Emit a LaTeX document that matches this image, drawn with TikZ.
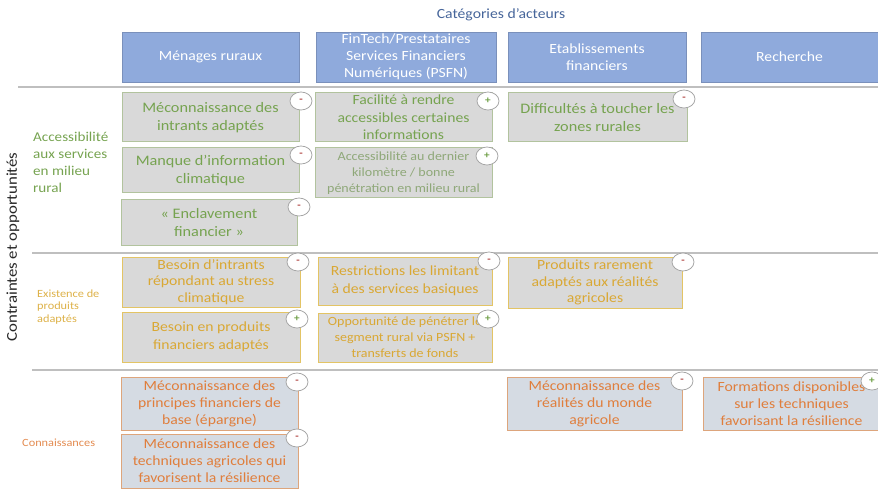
\documentclass[tikz,border=0pt]{standalone}
\usepackage{fontspec}
\setmainfont{Carlito}[FakeStretch=1.12]
\usetikzlibrary{shapes.geometric}
\definecolor{hdrfill}{HTML}{8FAADC}
\definecolor{boxgray}{HTML}{D9D9D9}
\definecolor{boxblue}{HTML}{D5DBE3}
\definecolor{grn}{HTML}{76A350}
\definecolor{grnline}{HTML}{B2C39E}
\definecolor{gld}{HTML}{D9A834}
\definecolor{gldline}{HTML}{E3C465}
\definecolor{org}{HTML}{E07E3C}
\definecolor{orgline}{HTML}{DDA57C}
\definecolor{sepline}{HTML}{BFBFBF}
\definecolor{ttl}{HTML}{46659A}
\definecolor{minusc}{HTML}{B0413E}
\definecolor{plusc}{HTML}{6E9F45}
\tikzset{
  hdr/.style={rectangle, fill=hdrfill, draw=hdrfill!85!black, line width=0.4pt, inner sep=0pt, align=center, text=white, font=\fontsize{14}{17}\selectfont},
  cell/.style={rectangle, inner sep=0pt, align=center, line width=1pt},
  gcell/.style={cell, fill=boxgray, draw=grnline, text=grn},
  ycell/.style={cell, fill=boxgray, draw=gldline, text=gld},
  ocell/.style={cell, fill=boxblue, draw=orgline, text=org},
  big/.style={font=\fontsize{14.5}{18}\selectfont},
  mid/.style={font=\fontsize{14}{16.8}\selectfont},
  sml/.style={font=\fontsize{12.5}{16}\selectfont},
  sgn/.style={ellipse, fill=white, draw=gray!70, line width=0.8pt, minimum width=22pt, minimum height=18pt, inner sep=0pt, font=\fontsize{10}{10}\selectfont\bfseries},
  negsign/.style={sgn, text=minusc},
  plussign/.style={sgn, text=plusc},
  sep/.style={draw=sepline, line width=1.2pt},
  rowlab/.style={anchor=west, align=left, inner sep=0pt}
}
\begin{document}
\begin{tikzpicture}[x=1pt,y=-1pt]
\useasboundingbox (0,0) rectangle (878,489);
% title
\node[text=ttl, font=\fontsize{14}{17}\selectfont] (title) at (501,15) {Catégories d'acteurs};
% header boxes
\node[hdr, minimum width=177pt, minimum height=50pt] (h1) at (210.5,57) {Ménages ruraux};
\node[hdr, minimum width=180pt, minimum height=50pt] (h2) at (406,57) {FinTech/Prestataires\\Services Financiers\\Numériques (PSFN)};
\node[hdr, minimum width=178pt, minimum height=50pt] (h3) at (597,57) {Etablissements\\financiers};
\node[hdr, minimum width=177pt, minimum height=50pt] (h4) at (789.5,57) {Recherche};
% separators
\coordinate (s1a) at (18,87); \coordinate (s1b) at (878,87);
\coordinate (s2a) at (32,253); \coordinate (s2b) at (878,253);
\coordinate (s3a) at (32,370); \coordinate (s3b) at (878,370);
\draw[sep] (s1a) -- (s1b);
\draw[sep] (s2a) -- (s2b);
\draw[sep] (s3a) -- (s3b);
% vertical label
\node[rotate=90, text=black!85, font=\fontsize{15}{18}\selectfont] (vlab) at (13,247) {Contraintes et opportunités};
% row labels
\node[rowlab, text=grn, font=\fontsize{13.5}{17}\selectfont] (lab1) at (33,162.5) {Accessibilité\\aux services\\en milieu\\rural};
\node[rowlab, text=gld!90!white, font=\fontsize{11}{12.5}\selectfont] (lab2) at (37,307) {Existence de\\produits\\adaptés};
\node[rowlab, text=org!90!white, font=\fontsize{11}{12.5}\selectfont] (lab3) at (22,443) {Connaissances};
% row 1
\node[gcell, big, minimum width=177pt, minimum height=49pt] (r1a) at (210.5,117.5) {Méconnaissance des\\intrants adaptés};
\node[negsign] (c1a) at (301,101) {-};
\node[gcell, big, minimum width=177pt, minimum height=45pt] (r1b) at (210.5,170.5) {Manque d'information\\climatique};
\node[negsign] (c1b) at (301,155) {-};
\node[gcell, big, minimum width=176pt, minimum height=45pt] (r1c) at (209,222.5) {« Enclavement\\financier »};
\node[negsign] (c1c) at (299,207) {-};
\node[gcell, font=\fontsize{14}{17.5}\selectfont, minimum width=177pt, minimum height=49pt] (r1d) at (403.5,117.5) {Facilité à rendre\\accessibles certaines\\informations};
\node[plussign] (c1d) at (488,101) {+};
\node[gcell, sml, text=grn!80!black!70, minimum width=177pt, minimum height=50pt] (r1e) at (403.5,173) {Accessibilité au dernier\\kilomètre / bonne\\pénétration en milieu rural};
\node[plussign] (c1e) at (487,156) {+};
\node[gcell, big, minimum width=179pt, minimum height=49pt] (r1f) at (597.5,117.5) {Difficultés à toucher les\\zones rurales};
\node[negsign] (c1f) at (684,99) {-};
% row 2
\node[ycell, mid, minimum width=178pt, minimum height=50pt] (r2a) at (211,282) {Besoin d'intrants\\répondant au stress\\climatique};
\node[negsign] (c2a) at (298,262) {-};
\node[ycell, font=\fontsize{14}{17.5}\selectfont, minimum width=178pt, minimum height=50pt] (r2b) at (211,337) {Besoin en produits\\financiers adaptés};
\node[plussign] (c2b) at (297,319) {+};
\node[ycell, font=\fontsize{14}{18}\selectfont, minimum width=174pt, minimum height=48pt] (r2c) at (405,281) {Restrictions les limitant\\à des services basiques};
\node[negsign] (c2c) at (489,261) {-};
\node[ycell, sml, minimum width=174pt, minimum height=49pt] (r2d) at (405,337.5) {Opportunité de pénétrer le\\segment rural via PSFN +\\transferts de fonds};
\node[plussign] (c2d) at (488,319) {+};
\node[ycell, mid, minimum width=174pt, minimum height=51pt] (r2e) at (595,282.5) {Produits rarement\\adaptés aux réalités\\agricoles};
\node[negsign] (c2e) at (683,262) {-};
% row 3
\node[ocell, font=\fontsize{14}{17}\selectfont, minimum width=177pt, minimum height=53pt] (r3a) at (209.5,403.5) {Méconnaissance des\\principes financiers de\\base (épargne)};
\node[negsign] (c3a) at (297,382) {-};
\node[ocell, font=\fontsize{14}{17}\selectfont, minimum width=177pt, minimum height=54pt] (r3b) at (209.5,461) {Méconnaissance des\\techniques agricoles qui\\favorisent la résilience};
\node[negsign] (c3b) at (297,438) {-};
\node[ocell, font=\fontsize{14}{17}\selectfont, minimum width=175pt, minimum height=53pt] (r3c) at (594.5,403.5) {Méconnaissance des\\réalités du monde\\agricole};
\node[negsign] (c3c) at (682,381) {-};
\node[ocell, font=\fontsize{14}{17}\selectfont, minimum width=177pt, minimum height=53pt] (r3d) at (791.5,403.5) {Formations disponibles\\sur les techniques\\favorisant la résilience};
\node[plussign] (c3d) at (872,381) {+};
\end{tikzpicture}
\end{document}
